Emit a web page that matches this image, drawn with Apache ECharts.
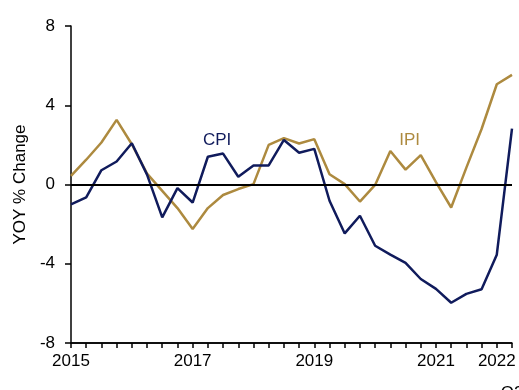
<!DOCTYPE html>
<html>
<head>
<meta charset="utf-8">
<script src="https://cdn.jsdelivr.net/npm/echarts@6/dist/echarts.min.js"></script>
<style>
  html, body { margin: 0; padding: 0; background: #ffffff; }
  #chart { width: 519px; height: 390px; background: #ffffff; }
</style>
</head>
<body>
<div id="chart"></div>
<script>
// Quarterly periods, 2015 Q1 .. 2022 Q2
const quarters = [];
for (let y = 2015; y <= 2022; y++) {
  for (let q = 1; q <= 4; q++) {
    if (y === 2022 && q > 2) break;
    quarters.push(y + 'Q' + q);
  }
}

// Year-over-year % change
const cpiValues = [-1.0, -0.65, 0.72, 1.16, 2.08, 0.5, -1.66, -0.18, -0.91, 1.40,
  1.56, 0.39, 0.96, 0.96, 2.25, 1.6, 1.8, -0.82, -2.47, -1.58,
  -3.09, -3.54, -3.96, -4.77, -5.27, -5.97, -5.52, -5.29, -3.54, 2.82];
const ipiValues = [0.44, 1.25, 2.12, 3.26, 2.03, 0.55, -0.32, -1.19, -2.25, -1.19,
  -0.53, -0.23, 0.02, 2.0, 2.34, 2.07, 2.29, 0.52, 0.02, -0.86,
  -0.02, 1.69, 0.75, 1.48, 0.12, -1.16, 0.85, 2.8, 5.06, 5.53];

// Which quarters carry an x-axis label, and the text shown
const xTickLabels = {
  '2015Q1': '2015',
  '2017Q1': '2017',
  '2019Q1': '2019',
  '2021Q1': '2021',
  '2022Q1': '2022',
  '2022Q2': '\n\nQ2'
};

const yTicks = [-8, -4, 0, 4, 8];

// Series name tags, anchored at a (quarter index, value) data position
const seriesTags = [
  { text: 'CPI', at: [10, 2.25], dx: -6, colorKey: 'CPI' },
  { text: 'IPI', at: [22, 2.22], dx: 4, colorKey: 'IPI' }
];

const NAVY = '#101b5c';
const GOLD = '#ad8a3f';
const COLORS = { CPI: NAVY, IPI: GOLD };
const FONT = 'Liberation Sans, Arial, sans-serif';

const chart = echarts.init(document.getElementById('chart'));

chart.setOption({
  animation: false,
  grid: { left: 71, right: 7, top: 26, bottom: 47, outerBoundsMode: 'none' },
  xAxis: {
    type: 'category',
    data: quarters,
    boundaryGap: false,
    axisLine: { show: true, onZero: false, lineStyle: { color: '#000', width: 1.5 } },
    axisTick: { show: true, length: 5, interval: 0, lineStyle: { color: '#000', width: 1.5 } },
    axisLabel: {
      interval: 0,
      margin: 10,
      color: '#000',
      fontFamily: FONT,
      fontSize: 17,
      lineHeight: 16,
      formatter: v => xTickLabels[v] || ''
    }
  },
  yAxis: {
    type: 'value',
    min: yTicks[0],
    max: yTicks[yTicks.length - 1],
    interval: 4,
    name: 'YOY % Change',
    nameLocation: 'middle',
    nameGap: 42,
    nameTextStyle: { color: '#000', fontFamily: FONT, fontSize: 17 },
    axisLine: { show: true, lineStyle: { color: '#000', width: 1.5 } },
    axisTick: { show: true, length: 6, lineStyle: { color: '#000', width: 1.5 } },
    axisLabel: { margin: 16, color: '#000', fontFamily: FONT, fontSize: 17 },
    splitLine: { show: false }
  },
  series: [
    {
      name: 'IPI',
      type: 'line',
      data: ipiValues,
      symbol: 'none',
      lineStyle: { color: GOLD, width: 2.5 },
      itemStyle: { color: GOLD },
      markLine: {
        silent: true,
        symbol: 'none',
        label: { show: false },
        lineStyle: { color: '#000', width: 2, type: 'solid' },
        data: [
          { yAxis: 0 },
          { yAxis: yTicks[0], lineStyle: { color: '#000', width: 1.5, type: 'solid' } }
        ]
      }
    },
    {
      name: 'CPI',
      type: 'line',
      data: cpiValues,
      symbol: 'none',
      lineStyle: { color: NAVY, width: 2.5 },
      itemStyle: { color: NAVY }
    }
  ]
});

// Place the series name tags through the grid's own coordinate conversion
chart.setOption({
  graphic: seriesTags.map(t => {
    const p = chart.convertToPixel({ gridIndex: 0 }, t.at);
    return {
      type: 'text',
      x: p[0] + t.dx,
      y: p[1],
      silent: true,
      style: {
        text: t.text,
        fill: COLORS[t.colorKey],
        font: '17px ' + FONT,
        textAlign: 'center',
        textVerticalAlign: 'middle'
      }
    };
  })
});
</script>
</body>
</html>
